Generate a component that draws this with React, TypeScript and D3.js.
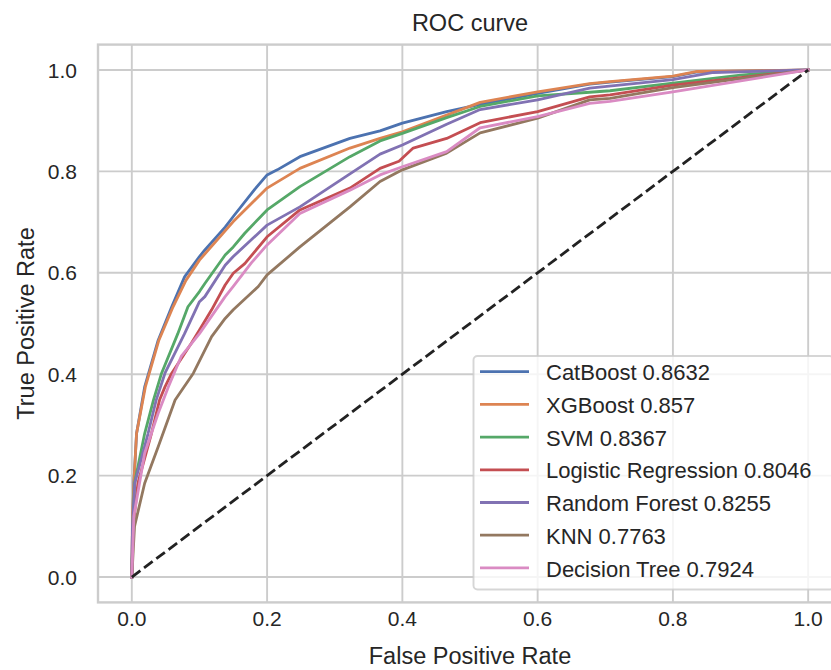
import React from "react";
import * as d3 from "d3";

type Pt = [number, number];

const modelNames = ["CatBoost", "XGBoost", "SVM", "Logistic Regression", "Random Forest", "KNN", "Decision Tree"];
const aucValues = ["0.8632", "0.857", "0.8367", "0.8046", "0.8255", "0.7763", "0.7924"];
const colors = ["#4c72b0", "#dd8452", "#55a868", "#c44e52", "#8172b3", "#937860", "#da8bc3"];
const tickValues = [0, 0.2, 0.4, 0.6, 0.8, 1.0];

const catboostRoc: Pt[] = [
  [0, 0], [0.001, 0.1], [0.003, 0.185], [0.007, 0.283], [0.019, 0.375], [0.039, 0.467], [0.059, 0.533],
  [0.078, 0.592], [0.1, 0.632], [0.108, 0.645], [0.138, 0.69], [0.15, 0.711], [0.182, 0.765], [0.2, 0.793],
  [0.215, 0.803], [0.2485, 0.829], [0.3225, 0.865], [0.367, 0.88], [0.4, 0.895], [0.4655, 0.918], [0.515, 0.932],
  [0.6, 0.954], [0.677, 0.972], [0.707, 0.976], [0.8, 0.987], [0.836, 0.996], [1, 1],
];
const xgboostRoc: Pt[] = [
  [0, 0], [0.001, 0.12], [0.003, 0.185], [0.007, 0.283], [0.02, 0.375], [0.04, 0.467], [0.061, 0.533],
  [0.08, 0.585], [0.1, 0.625], [0.15, 0.701], [0.2, 0.767], [0.2485, 0.806], [0.3225, 0.846], [0.367, 0.865],
  [0.4, 0.878], [0.4655, 0.911], [0.515, 0.936], [0.6, 0.957], [0.677, 0.973], [0.707, 0.977], [0.8, 0.988],
  [0.836, 0.997], [1, 1],
];
const svmRoc: Pt[] = [
  [0, 0], [0.002, 0.12], [0.004, 0.185], [0.019, 0.283], [0.032, 0.349], [0.044, 0.402], [0.068, 0.48],
  [0.083, 0.533], [0.1, 0.563], [0.108, 0.579], [0.138, 0.635], [0.15, 0.651], [0.167, 0.678], [0.2, 0.724],
  [0.2485, 0.77], [0.3225, 0.829], [0.367, 0.86], [0.4, 0.875], [0.4655, 0.906], [0.515, 0.928], [0.6, 0.949],
  [0.677, 0.956], [0.707, 0.959], [0.8, 0.974], [0.9, 0.99], [1, 1],
];
const logisticRoc: Pt[] = [
  [0, 0], [0.002, 0.1], [0.009, 0.185], [0.029, 0.283], [0.041, 0.349], [0.049, 0.375], [0.059, 0.402],
  [0.088, 0.461], [0.1, 0.487], [0.118, 0.527], [0.138, 0.576], [0.15, 0.599], [0.167, 0.618], [0.2, 0.671],
  [0.2485, 0.724], [0.3225, 0.767], [0.367, 0.806], [0.395, 0.82], [0.416, 0.846], [0.4655, 0.865],
  [0.515, 0.896], [0.6, 0.918], [0.677, 0.947], [0.707, 0.951], [0.8, 0.97], [0.9, 0.985], [1, 1],
];
const forestRoc: Pt[] = [
  [0, 0], [0.001, 0.1], [0.0044, 0.185], [0.024, 0.283], [0.036, 0.349], [0.049, 0.402], [0.078, 0.48],
  [0.1, 0.543], [0.108, 0.553], [0.138, 0.615], [0.15, 0.632], [0.2, 0.694], [0.2485, 0.73], [0.3225, 0.795],
  [0.367, 0.834], [0.4, 0.852], [0.4655, 0.893], [0.515, 0.922], [0.6, 0.941], [0.677, 0.964], [0.8, 0.981],
  [0.86, 0.995], [1, 1],
];
const knnRoc: Pt[] = [
  [0, 0], [0.004, 0.1], [0.019, 0.185], [0.039, 0.257], [0.064, 0.349], [0.091, 0.402], [0.118, 0.474],
  [0.138, 0.51], [0.15, 0.527], [0.187, 0.573], [0.2, 0.596], [0.2485, 0.651], [0.3225, 0.73], [0.367, 0.78],
  [0.4, 0.803], [0.4655, 0.836], [0.515, 0.876], [0.6, 0.905], [0.677, 0.941], [0.707, 0.944], [0.8, 0.965],
  [0.9, 0.983], [1, 1],
];
const treeRoc: Pt[] = [
  [0, 0], [0.003, 0.12], [0.019, 0.244], [0.039, 0.323], [0.054, 0.375], [0.073, 0.435], [0.1, 0.48],
  [0.138, 0.553], [0.15, 0.573], [0.177, 0.62], [0.2, 0.655], [0.2485, 0.717], [0.3225, 0.763], [0.367, 0.793],
  [0.4, 0.809], [0.4655, 0.839], [0.515, 0.886], [0.6, 0.908], [0.677, 0.934], [0.707, 0.938], [0.8, 0.957],
  [1, 1],
];
const rocSeries: Pt[][] = [catboostRoc, xgboostRoc, svmRoc, logisticRoc, forestRoc, knnRoc, treeRoc];
const diagonal: Pt[] = [[0, 0], [1, 1]];

const W = 831;
const H = 670;
const ax = { left: 98, right: 842, top: 44.6, bottom: 602.4 };
const textColor = "#262626";
const gridColor = "#cccccc";
const font = "Arial, 'Liberation Sans', Helvetica, sans-serif";

export default function App() {
  const x = d3.scaleLinear().domain([-0.05, 1.05]).range([ax.left, ax.right]);
  const y = d3.scaleLinear().domain([-0.05, 1.05]).range([ax.bottom, ax.top]);
  const line = d3
    .line<Pt>()
    .x((d) => x(d[0]))
    .y((d) => y(d[1]));

  const legX = 473.5;
  const legY = 356;
  const legW = 360;
  const legH = 233.5;
  const rowStart = 371.7;
  const rowStep = 32.7;

  return (
    <svg
      width={W}
      height={H}
      style={{ position: "absolute", left: 0, top: 0, background: "#fff" }}
      fontFamily={font}
    >
      <defs>
        <clipPath id="plotclip">
          <rect x={ax.left} y={ax.top} width={ax.right - ax.left} height={ax.bottom - ax.top} />
        </clipPath>
      </defs>
      <rect x={0} y={0} width={W} height={H} fill="#fff" />
      {tickValues.map((t) => (
        <line key={"gx" + t} x1={x(t)} x2={x(t)} y1={ax.top} y2={ax.bottom} stroke={gridColor} strokeWidth={1.9} />
      ))}
      {tickValues.map((t) => (
        <line key={"gy" + t} x1={ax.left} x2={ax.right} y1={y(t)} y2={y(t)} stroke={gridColor} strokeWidth={1.9} />
      ))}
      <g clipPath="url(#plotclip)">
        {rocSeries.map((s, i) => (
          <path key={"c" + i} d={line(s) || ""} fill="none" stroke={colors[i]} strokeWidth={2.8} strokeLinejoin="round" strokeLinecap="square" />
        ))}
        <path d={line(diagonal) || ""} fill="none" stroke="#222" strokeWidth={2.8} strokeDasharray="10.7,4.6" />
      </g>
      <rect
        x={ax.left}
        y={ax.top}
        width={ax.right - ax.left}
        height={ax.bottom - ax.top}
        fill="none"
        stroke={gridColor}
        strokeWidth={2.4}
      />
      {tickValues.map((t) => (
        <text key={"tx" + t} x={x(t)} y={626} textAnchor="middle" fontSize={21} fill={textColor}>
          {t.toFixed(1)}
        </text>
      ))}
      {tickValues.map((t) => (
        <text key={"ty" + t} x={77} y={y(t) + 7.6} textAnchor="end" fontSize={21} fill={textColor}>
          {t.toFixed(1)}
        </text>
      ))}
      <text x={(ax.left + ax.right) / 2} y={31} textAnchor="middle" fontSize={23.5} fill={textColor}>
        ROC curve
      </text>
      <text x={(ax.left + ax.right) / 2} y={664} textAnchor="middle" fontSize={23.5} fill={textColor}>
        False Positive Rate
      </text>
      <text
        transform={`translate(34, ${(ax.top + ax.bottom) / 2}) rotate(-90)`}
        textAnchor="middle"
        fontSize={23.5}
        fill={textColor}
      >
        True Positive Rate
      </text>
      <rect
        x={legX}
        y={legY}
        width={legW}
        height={legH}
        rx={4}
        ry={4}
        fill="#fff"
        fillOpacity={0.8}
        stroke={gridColor}
        strokeOpacity={0.8}
        strokeWidth={1.9}
      />
      {modelNames.map((name, i) => {
        const ly = rowStart + i * rowStep;
        return (
          <g key={"lg" + i}>
            <line x1={480} x2={529} y1={ly} y2={ly} stroke={colors[i]} strokeWidth={2.8} />
            <text x={546} y={ly + 8.6} fontSize={22} fill={textColor}>
              {name + " " + aucValues[i]}
            </text>
          </g>
        );
      })}
    </svg>
  );
}
